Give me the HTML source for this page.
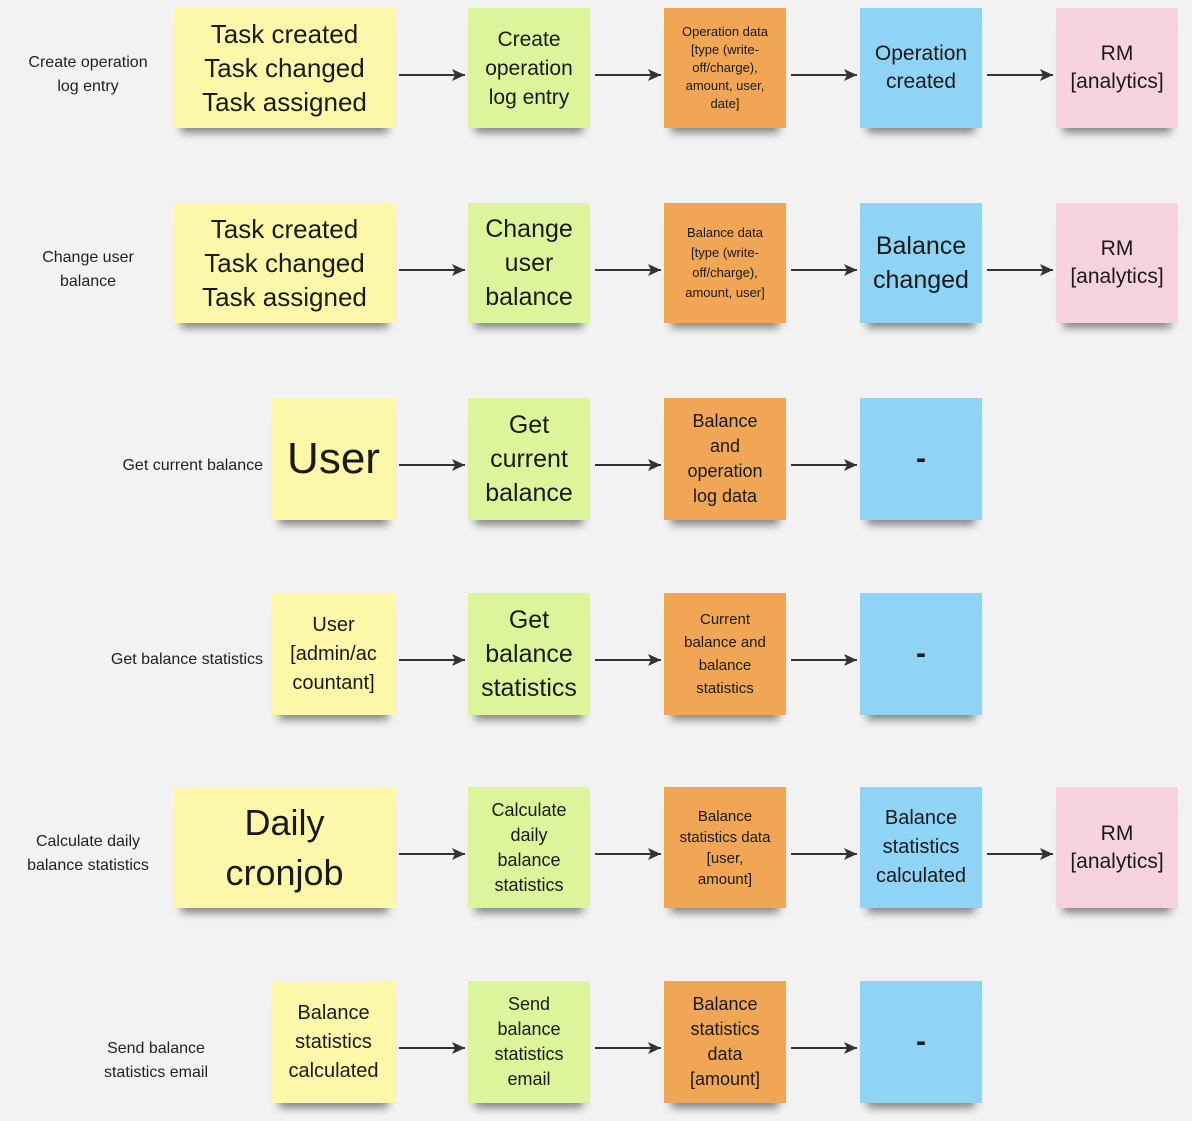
<!DOCTYPE html>
<html><head><meta charset="utf-8"><style>
body{margin:0;width:1192px;height:1121px;background:#f2f2f2;font-family:"Liberation Sans",sans-serif;position:relative;overflow:hidden;color:#1a1a1a}
.n{position:absolute;display:flex;align-items:center;justify-content:center;text-align:center;box-shadow:0 12px 8px -7px rgba(0,0,0,.45);box-sizing:border-box;padding:0 4px}
.y{background:#fdf8a9;left:174px;width:221px}
.yn{background:#fdf8a9;left:272px;width:123px}
.g{background:#dcf59a;left:468px;width:122px}
.o{background:#f0a654;left:664px;width:122px}
.b{background:#8fd4f5;left:860px;width:122px}
.p{background:#f6d2df;left:1056px;width:122px}
.l{position:absolute;font-size:16px;line-height:24px;text-align:center;color:#222}
svg{position:absolute;left:0;top:0}
</style></head><body>
<svg width="1192" height="1121"><defs><marker id="a" markerWidth="14" markerHeight="14" refX="13" refY="7" orient="auto" markerUnits="userSpaceOnUse"><path d="M0,1 L13,7 L0,13 L3,7z" fill="#333"/></marker></defs>
<g stroke="#333" stroke-width="2" marker-end="url(#a)">
<line x1="399" y1="75" x2="465" y2="75"/><line x1="595" y1="75" x2="661" y2="75"/><line x1="791" y1="75" x2="857" y2="75"/><line x1="987" y1="75" x2="1053" y2="75"/>
<line x1="399" y1="270" x2="465" y2="270"/><line x1="595" y1="270" x2="661" y2="270"/><line x1="791" y1="270" x2="857" y2="270"/><line x1="987" y1="270" x2="1053" y2="270"/>
<line x1="399" y1="465" x2="465" y2="465"/><line x1="595" y1="465" x2="661" y2="465"/><line x1="791" y1="465" x2="857" y2="465"/>
<line x1="399" y1="660" x2="465" y2="660"/><line x1="595" y1="660" x2="661" y2="660"/><line x1="791" y1="660" x2="857" y2="660"/>
<line x1="399" y1="854" x2="465" y2="854"/><line x1="595" y1="854" x2="661" y2="854"/><line x1="791" y1="854" x2="857" y2="854"/><line x1="987" y1="854" x2="1053" y2="854"/>
<line x1="399" y1="1048" x2="465" y2="1048"/><line x1="595" y1="1048" x2="661" y2="1048"/><line x1="791" y1="1048" x2="857" y2="1048"/>
</g></svg>

<div class="l" style="left:10px;width:156px;top:51px">Create operation<br>log entry</div>
<div class="n y" style="top:8px;height:120px;font-size:26px;line-height:34px">Task created<br>Task changed<br>Task assigned</div>
<div class="n g" style="top:8px;height:120px;font-size:21px;line-height:29px">Create<br>operation<br>log entry</div>
<div class="n o" style="top:8px;height:120px;font-size:13px;line-height:18px">Operation data<br>[type (write-<br>off/charge),<br>amount, user,<br>date]</div>
<div class="n b" style="top:8px;height:120px;font-size:21px;line-height:28px">Operation<br>created</div>
<div class="n p" style="top:8px;height:120px;font-size:21px;line-height:28px">RM<br>[analytics]</div>

<div class="l" style="left:10px;width:156px;top:246px">Change user<br>balance</div>
<div class="n y" style="top:203px;height:120px;font-size:26px;line-height:34px">Task created<br>Task changed<br>Task assigned</div>
<div class="n g" style="top:203px;height:120px;font-size:25px;line-height:34px">Change<br>user<br>balance</div>
<div class="n o" style="top:203px;height:120px;font-size:13px;line-height:20px">Balance data<br>[type (write-<br>off/charge),<br>amount, user]</div>
<div class="n b" style="top:203px;height:120px;font-size:25px;line-height:34px">Balance<br>changed</div>
<div class="n p" style="top:203px;height:120px;font-size:21px;line-height:28px">RM<br>[analytics]</div>

<div class="l" style="top:454px;width:250px;text-align:right;left:13px">Get current balance</div>
<div class="n yn" style="top:398px;height:122px;font-size:44px">User</div>
<div class="n g" style="top:398px;height:122px;font-size:25px;line-height:34px">Get<br>current<br>balance</div>
<div class="n o" style="top:398px;height:122px;font-size:18px;line-height:25px">Balance<br>and<br>operation<br>log data</div>
<div class="n b" style="top:398px;height:122px;font-size:30px;font-weight:bold">-</div>

<div class="l" style="top:648px;width:250px;text-align:right;left:13px">Get balance statistics</div>
<div class="n yn" style="top:593px;height:122px;font-size:20px;line-height:29px">User<br>[admin/ac<br>countant]</div>
<div class="n g" style="top:593px;height:122px;font-size:25px;line-height:34px">Get<br>balance<br>statistics</div>
<div class="n o" style="top:593px;height:122px;font-size:15px;line-height:23px">Current<br>balance and<br>balance<br>statistics</div>
<div class="n b" style="top:593px;height:122px;font-size:30px;font-weight:bold">-</div>

<div class="l" style="left:10px;width:156px;top:830px">Calculate daily<br>balance statistics</div>
<div class="n y" style="top:787px;height:121px;font-size:36px;line-height:50px">Daily<br>cronjob</div>
<div class="n g" style="top:787px;height:121px;font-size:18px;line-height:25px">Calculate<br>daily<br>balance<br>statistics</div>
<div class="n o" style="top:787px;height:121px;font-size:15px;line-height:21px">Balance<br>statistics data<br>[user,<br>amount]</div>
<div class="n b" style="top:787px;height:121px;font-size:20px;line-height:29px">Balance<br>statistics<br>calculated</div>
<div class="n p" style="top:787px;height:121px;font-size:21px;line-height:28px">RM<br>[analytics]</div>

<div class="l" style="left:78px;width:156px;top:1037px">Send balance<br>statistics email</div>
<div class="n yn" style="top:981px;height:122px;font-size:20px;line-height:29px">Balance<br>statistics<br>calculated</div>
<div class="n g" style="top:981px;height:122px;font-size:18px;line-height:25px">Send<br>balance<br>statistics<br>email</div>
<div class="n o" style="top:981px;height:122px;font-size:18px;line-height:25px">Balance<br>statistics<br>data<br>[amount]</div>
<div class="n b" style="top:981px;height:122px;font-size:30px;font-weight:bold">-</div>
</body></html>
